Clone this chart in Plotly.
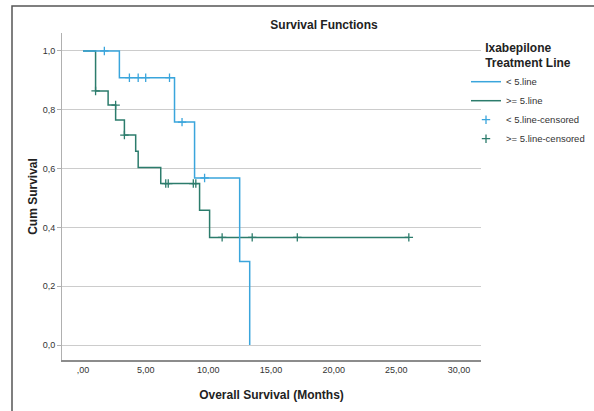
import plotly.graph_objects as go

# ---- data ----
lt5_time = [0.0, 2.9, 7.3, 8.9, 12.5, 13.3]
lt5_surv = [1.0, 0.909, 0.758, 0.568, 0.284, 0.0]
ge5_time = [0.0, 1.0, 2.0, 2.6, 3.3, 4.2, 4.4, 6.2, 9.3, 10.1, 26.0]
ge5_surv = [1.0, 0.864, 0.816, 0.765, 0.714, 0.659, 0.604, 0.549, 0.458, 0.366, 0.366]

lt5_cens_time = [1.7, 3.7, 4.4, 5.0, 6.9, 7.9, 9.7]
lt5_cens_surv = [1.0, 0.909, 0.909, 0.909, 0.909, 0.758, 0.568]
ge5_cens_time = [1.0, 2.6, 3.3, 6.6, 6.8, 8.8, 9.0, 11.1, 13.5, 17.1, 26.0]
ge5_cens_surv = [0.864, 0.816, 0.714, 0.549, 0.549, 0.549, 0.549, 0.366, 0.366, 0.366, 0.366]

x_tickvals = [0, 5, 10, 15, 20, 25, 30]
x_ticktext = [",00", "5,00", "10,00", "15,00", "20,00", "25,00", "30,00"]
y_tickvals = [0.0, 0.2, 0.4, 0.6, 0.8, 1.0]
y_ticktext = ["0,0", "0,2", "0,4", "0,6", "0,8", "1,0"]

BLUE = "#3aa5dc"
GREEN = "#2c7c6c"
FONT = "Liberation Sans, Arial, sans-serif"

fig = go.Figure()
fig.add_trace(go.Scatter(x=ge5_time, y=ge5_surv, mode="lines", line_shape="hv",
                         line=dict(color=GREEN, width=1.5), name=">= 5.line", legendrank=2))
fig.add_trace(go.Scatter(x=lt5_time, y=lt5_surv, mode="lines", line_shape="hv",
                         line=dict(color=BLUE, width=1.5), name="< 5.line", legendrank=1))
fig.add_trace(go.Scatter(x=lt5_cens_time, y=lt5_cens_surv, mode="markers",
                         marker=dict(symbol="cross-thin", size=6, line=dict(color=BLUE, width=1.3)),
                         name="< 5.line-censored", legendrank=3))
fig.add_trace(go.Scatter(x=ge5_cens_time, y=ge5_cens_surv, mode="markers",
                         marker=dict(symbol="cross-thin", size=6, line=dict(color=GREEN, width=1.3)),
                         name=">= 5.line-censored", legendrank=4))

fig.update_layout(
    width=594, height=411,
    margin=dict(l=62, r=113, t=33, b=51, autoexpand=False),
    paper_bgcolor="white", plot_bgcolor="white",
    font=dict(family=FONT, size=9, color="#333333"),
    title=dict(text="<b>Survival Functions</b>", x=324 / 594, xanchor="center",
               xref="container", yref="container",
               y=1 - 25 / 411, yanchor="middle", font=dict(size=12, color="#222222")),
    showlegend=True,
    legend=dict(
        xref="container", yref="container",
        x=466 / 594, xanchor="left", y=1 - 36 / 411, yanchor="top",
        font=dict(size=9.5, color="#333333"),
        title=dict(text="<b>Ixabepilone<br>Treatment Line</b>", side="top center",
                   font=dict(size=12, color="#222222")),
        itemwidth=30, traceorder="normal", bgcolor="rgba(0,0,0,0)",
        tracegroupgap=0,
    ),
    xaxis=dict(range=[-1.68, 31.76], tickvals=x_tickvals, ticktext=x_ticktext,
               showgrid=False, zeroline=False, showline=True, linecolor="#8c8c8c",
               linewidth=1.5, ticks="", tickfont=dict(size=9), automargin=False,
               title=dict(text="<b>Overall Survival (Months)</b>", font=dict(size=12, color="#222222"),
                          standoff=17)),
    yaxis=dict(range=[-0.051, 1.061], tickvals=y_tickvals, ticktext=y_ticktext,
               showgrid=True, gridcolor="#cccccc", gridwidth=1, zeroline=False,
               showline=True, linecolor="#b0b0b0", linewidth=1, ticks="outside",
               ticklen=4, tickcolor="#b0b0b0", tickfont=dict(size=9), automargin=False,
               title=dict(text="<b>Cum Survival</b>", font=dict(size=12, color="#222222"),
                          standoff=2)),
)

# outer chart frame
fig.add_shape(type="rect", xref="paper", yref="paper",
              x0=(12 - 62) / 419, x1=(640 - 62) / 419,
              y0=(360 - 440) / 327, y1=(360 - 6) / 327,
              line=dict(color="#555555", width=1.5), fillcolor="rgba(0,0,0,0)", layer="below")

fig.write_html("out.html", config={"displayModeBar": False},
               post_script="document.body.style.margin='0';document.body.style.overflow='hidden';")
